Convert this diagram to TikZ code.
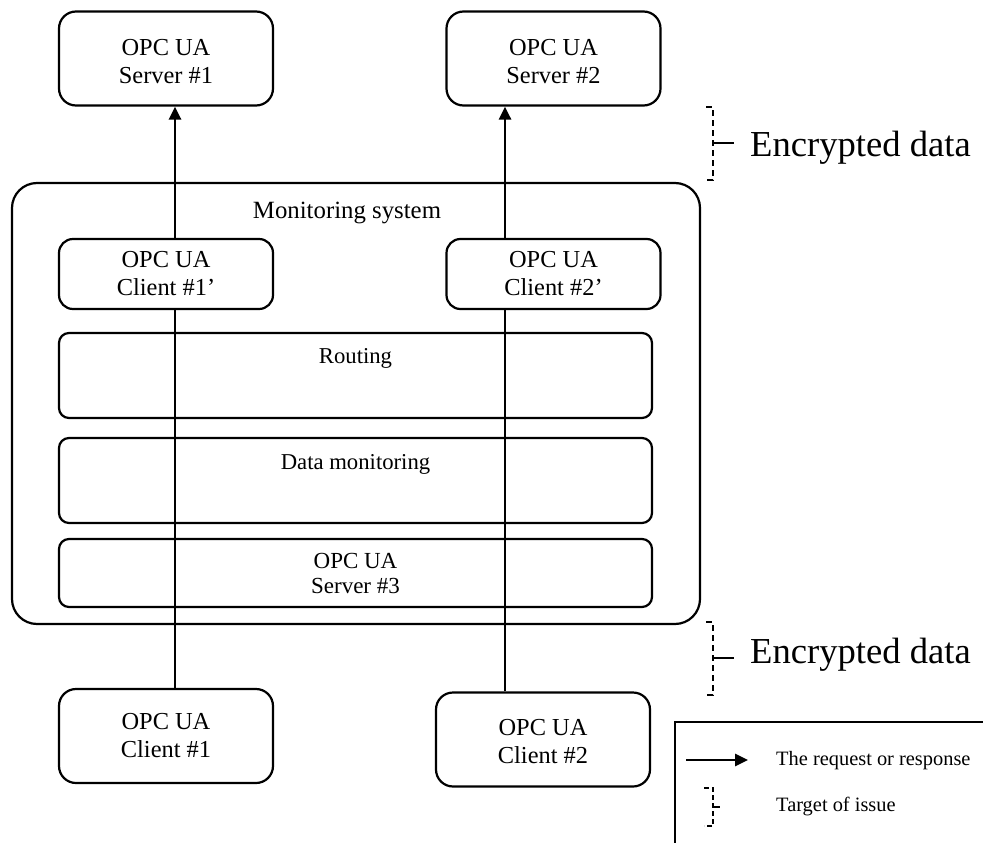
\documentclass[tikz,border=0pt]{standalone}
\usepackage{fontspec}
\setmainfont{Liberation Serif}
\usetikzlibrary{arrows.meta}

\tikzset{
  box/.style={draw, line width=2.2pt, inner sep=0pt, align=center,
    font=\fontsize{24.4}{28}\selectfont},
  endbox/.style={box, rounded corners=17pt, minimum width=214pt, minimum height=94pt},
  proxybox/.style={box, rounded corners=14pt, fill=white, minimum width=214pt, minimum height=70pt},
  layerbox/.style={box, rounded corners=10pt, minimum width=593pt},
  outerbox/.style={draw, line width=2.2pt, rounded corners=25pt},
  boxtext/.style={align=center, inner sep=0pt, font=\fontsize{24.4}{28}\selectfont},
  flow/.style={line width=2.8pt},
  flowtip/.style={flow, -{Triangle[width=12pt,length=13pt]}},
  bracket/.style={line width=2.2pt, dash pattern=on 6pt off 4pt},
  caption/.style={font=\fontsize{22.7}{28}\selectfont},
  bigtext/.style={font=\fontsize{36.6}{40}\selectfont, anchor=base west, inner sep=0pt},
  legtext/.style={font=\fontsize{20.4}{24}\selectfont, anchor=base west, inner sep=0pt},
}

\begin{document}
\begin{tikzpicture}[x=1pt, y=-1pt]
  \useasboundingbox (0,0) rectangle (983,843);
  \clip (0,0) rectangle (983,843);

  % servers at the top
  \node[endbox] (s1) at (166,58.5) {};
  \node[boxtext] (s1t) at (166,62) {OPC UA\\Server \#1};
  \node[endbox] (s2) at (553.5,58.5) {};
  \node[boxtext] (s2t) at (553.5,62) {OPC UA\\Server \#2};

  % monitoring system
  \draw[outerbox] (12,183) rectangle (700,624);
  \node[caption, font=\fontsize{24.8}{28}\selectfont, anchor=base] (mon) at (347,218) {Monitoring system};

  \node[proxybox] (c1p) at (166,274) {OPC UA\\Client \#1’};
  \node[proxybox] (c2p) at (553.5,274) {OPC UA\\Client \#2’};

  \node[layerbox, minimum height=85pt] (rt) at (355.5,375.5) {};
  \node[caption, anchor=base] (rtl) at (355.5,363) {Routing};
  \node[layerbox, minimum height=85pt] (dm) at (355.5,480.5) {};
  \node[caption, anchor=base] (dml) at (355.5,469) {Data monitoring};
  \node[layerbox, minimum height=68pt, font=\fontsize{23}{25}\selectfont] (s3) at (355.5,573) {OPC UA\\Server \#3};

  % clients at the bottom
  \node[endbox] (c1) at (166,736) {OPC UA\\Client \#1};
  \node[endbox] (c2) at (543,739.5) {};
  \node[boxtext] (c2t) at (543,742) {OPC UA\\Client \#2};

  % request / response paths
  \coordinate (x1) at (175,0);
  \coordinate (x2) at (505,0);
  \draw[flow] (c1.north -| x1) -- (c1p.south -| x1);
  \draw[flowtip] (c1p.north -| x1) -- (s1.south -| x1);
  \draw[flow] (c2.north -| x2) -- (c2p.south -| x2);
  \draw[flowtip] (c2p.north -| x2) -- (s2.south -| x2);

  % encrypted segments
  \coordinate (b1) at (713,143);
  \draw[bracket] (706,107) -- (713,107) -- (713,180) -- (706,180);
  \draw[line width=2.2pt] (b1) -- (734,143);
  \node[bigtext] (enc1) at (750,156) {Encrypted data};

  \coordinate (b2) at (713,658);
  \draw[bracket] (706,622) -- (713,622) -- (713,695) -- (706,695);
  \draw[line width=2.2pt] (b2) -- (734,658);
  \node[bigtext] (enc2) at (750,663) {Encrypted data};

  % legend
  \draw[line width=2.2pt] (990,722) -- (675,722) -- (675,850);
  \coordinate (la0) at (686,760);
  \coordinate (la1) at (748,760);
  \draw[flowtip] (la0) -- (la1);
  \node[legtext] (lg1) at (776,765) {The request or response};
  \draw[bracket, dash pattern=on 5pt off 3pt] (704,788) -- (713,788) -- (713,826) -- (704,826);
  \coordinate (lb) at (713,807);
  \draw[line width=2.2pt] (lb) -- (720,807);
  \node[legtext] (lg2) at (776,811) {Target of issue};
\end{tikzpicture}
\end{document}
